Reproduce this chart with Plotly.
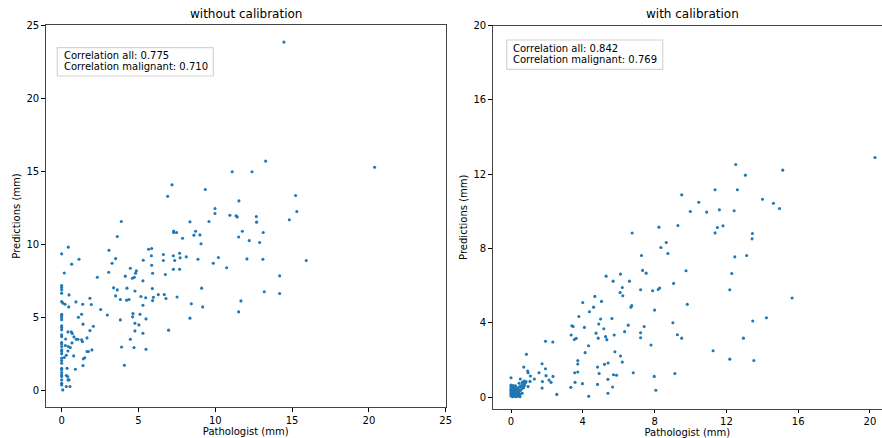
import plotly.graph_objects as go

# ---------------- data ----------------
left_pts = [
    (14.47,23.83),(20.37,15.28),(13.28,15.7),(11.1,14.97),(12.39,14.97),(7.18,14.08),(6.9,13.3),(9.35,13.76),
    (15.23,13.35),(11.54,12.98),(9.98,12.46),(9.98,12.12),(15.31,12.26),(10.95,12.0),(11.35,11.96),(11.43,11.89),
    (12.67,11.91),(14.82,11.69),(12.69,11.53),(9.59,11.57),(8.35,11.55),(3.88,11.57),(11.76,10.91),(13.12,10.82),
    (7.29,10.93),(7.29,10.82),(7.48,10.82),(8.72,10.91),(9.0,10.66),(8.61,10.64),(7.87,10.43),(3.62,10.55),
    (11.52,10.52),(12.21,10.27),(12.89,10.14),(9.07,10.05),
    (0,9.36),(0.43,9.82),(3.08,9.61),(5.66,9.68),(5.86,9.73),(6.62,9.32),(7.27,9.23),(7.68,9.41),(5.84,9.23),
    (8.11,9.16),(10.2,9.11),(1.13,9.0),(3.51,9.04),(7.36,8.91),(7.71,9.09),(8.87,9.0),(12.06,9.02),(13.1,9.0),
    (15.92,8.91),(3.28,8.72),(0.65,8.66),(5.31,8.93),(6.62,8.91),(9.87,8.72),(5.86,8.59),(10.74,8.41),(4.47,8.38),
    (7.27,8.31),(7.68,8.31),(4.86,8.2),(4.81,8.04),(0.17,8.06),(3.06,8.11),(5.92,8.04),(6.75,7.95),(4.14,7.84),
    (14.19,7.86),(2.32,7.77),(4.6,7.7),(4.73,7.77),
    (0,7.2),(0,7.07),(0,6.91),(0,6.68),(3.38,7.04),(4.25,7.02),(3.62,6.9),(5.29,7.52),(9.11,7.02),(5.9,6.99),
    (4.77,6.83),(0.48,6.56),(3.51,6.49),(6.68,6.58),(6.29,6.58),(6.79,6.31),(7.51,6.42),(5.16,6.45),(5.47,6.36),
    (5.97,6.4),(4.23,6.2),(4.38,6.24),(3.82,6.24),(5.92,6.17),(0,6.11),(0.07,6.0),(0.93,6.08),(0.22,5.92),
    (1.37,5.92),(1.93,5.9),(0.46,5.74),(5.29,5.85),(8.44,5.95),(13.19,6.77),(14.19,6.65),(11.67,6.15),(9.18,5.74),
    (11.52,5.4),(1.84,6.33),(2.54,5.56),(2.97,5.19),(1.3,5.24),(1.09,5.03),(1.39,4.56),(2.06,4.42),(1.84,4.12),
    (8.35,4.97),(4.64,5.28),(4.62,5.06),(5.1,5.24),(5.49,4.92),(3.82,4.85),(4.77,4.62),(5.03,4.51),(4.77,4.1),
    (6.96,4.15),(5.29,3.94),
    (0,5.24),(0,5.15),(0,5.02),(0,4.86),(0,4.45),(0,4.33),(0,4.17),(0,3.83),(0,3.71),(0,3.3),(0,3.21),(0,3.03),
    (0,2.8),(0,2.69),(0,2.53),(0,2.24),(0,2.07),(0,1.89),(0,1.55),(0,1.44),(0,1.25),(0,1.09),(0,0.98),(0,0.75),
    (0,0.52),(0,0.41),
    (4.47,3.53),(3.9,3.0),(4.71,2.96),(5.49,2.85),(4.08,1.75),(0.41,4.03),(0.63,4.03),(0.69,3.92),(0.8,3.69),
    (0.95,3.53),(1.06,3.53),(1.3,3.49),(1.35,3.37),(1.65,3.62),(0.67,3.28),(0.26,3.55),(0.24,3.1),(0.43,3.03),
    (0.56,2.96),(1.65,2.69),(1.74,2.69),(1.97,2.8),(1.5,2.26),(1.41,2.19),(0.78,2.39),(0.41,2.73),(0.3,2.44),
    (0.17,2.28),(1.39,1.73),(0.89,1.48),(0.35,1.55),(0.3,1.05),(0.39,0.98),(0.41,0.75),(0.48,0.75),(0.3,0.3),
    (0.54,0.3),(0.07,0.07),
]
left_x = [p[0] for p in left_pts]
left_y = [p[1] for p in left_pts]

right_pts = [
    (20.28,12.9),(12.52,12.52),(15.14,12.22),(13.06,11.95),(11.37,11.16),(12.61,11.16),(9.51,10.89),(14.01,10.65),
    (10.46,10.49),(14.62,10.44),(11.61,10.08),(12.43,10.03),(14.96,10.15),(9.99,9.99),(10.9,9.96),(8.24,9.15),
    (9.3,9.24),(11.81,9.22),(11.5,9.13),(11.37,8.84),(13.45,8.81),(13.43,8.52),(6.75,8.83),(8.65,8.32),(8.35,8.05),
    (8.74,7.73),(12.47,7.55),(13.13,7.62),(7.27,7.62),(7.33,6.82),(7.53,6.67),(9.75,6.8),(12.3,6.65),(5.3,6.51),
    (6.1,6.62),(5.69,6.24),(6.6,6.24),(9.06,6.12),(6.2,5.9),(7.22,5.78),(7.89,5.72),(8.2,5.79),(8.28,5.87),
    (12.19,5.78),(6.08,5.63),(6.23,5.45),(4.67,5.42),(5.04,5.15),(4.0,5.09),(4.6,4.84),(6.73,4.93),(6.68,4.84),
    (9.82,4.99),(15.66,5.33),(4.37,4.59),(8.0,4.68),(3.78,4.34),(4.99,4.2),(5.62,4.23),(4.89,3.93),(6.53,3.87),
    (9.02,4.0),(13.47,4.09),(14.23,4.27),(3.39,3.84),(3.46,3.8),(4.09,3.75),(5.17,3.68),(7.42,3.8),(4.74,3.44),
    (6.33,3.52),(7.22,3.46),(3.35,3.34),(5.75,3.34),(5.27,3.25),(3.63,3.16),(3.53,3.1),(4.86,3.17),(5.34,3.09),
    (7.22,3.19),(9.27,3.35),(9.51,3.17),(12.95,3.17),(1.92,3.0),(2.33,2.96),(4.32,2.76),(7.8,2.8),(4.13,2.39),
    (5.79,2.44),(6.1,2.21),(6.2,1.88),(11.26,2.49),(12.19,2.04),(13.53,1.97),(0.86,2.3),(3.72,1.96),(3.72,1.78),
    (1.73,1.79),(5.41,1.83),(5.21,1.76),(4.82,1.61),(0.71,1.61),(1.92,1.52),(0.93,1.4),(0.95,1.31),(1.56,1.31),
    (3.55,1.31),(3.72,1.35),(4.91,1.27),(5.71,1.2),(5.88,1.17),(6.81,1.31),(9.13,1.27),(7.98,1.11),(2.34,1.11),
    (1.08,1.13),(1.95,1.15),(1.3,0.97),(2.12,0.91),(1.75,0.83),(1.06,0.84),(0.73,0.86),(2.23,0.79),(3.57,0.79),
    (3.98,0.72),(4.82,0.68),(5.4,0.95),(0.95,0.56),(1.73,0.48),(3.33,0.52),(5.66,0.54),(8.07,0.36),(2.55,0.14),
    (5.4,0.2),(4.33,0.04),(0,1.04),
    (0.52,0.97),(0.45,0.74),(0.63,0.79),(0.84,0.83),(0.69,0.56),(0.32,0.47),
    (0,0.05),(0,0.12),(0,0.2),(0,0.28),(0,0.35),(0,0.42),(0,0.5),(0,0.58),(0,0.65),(0.05,0.08),(0.05,0.3),
    (0.05,0.55),(0.1,0.02),(0.1,0.18),(0.1,0.4),(0.12,0.62),(0.15,0.1),(0.15,0.25),(0.17,0.5),(0.2,0.05),
    (0.2,0.33),(0.22,0.45),(0.24,0.15),(0.25,0.6),(0.28,0.02),(0.3,0.22),(0.3,0.38),(0.33,0.1),(0.35,0.5),
    (0.36,0.3),(0.4,0.05),(0.4,0.18),(0.42,0.42),(0.45,0.1),(0.45,0.28),(0.48,0.55),(0.5,0.02),(0.5,0.15),
    (0.52,0.35),(0.55,0.6),(0.6,0.45),(0.65,0.7),(0.7,0.5),(0.75,0.62),(0.8,0.75),(0.62,0.2),
]
right_x = [p[0] for p in right_pts]
right_y = [p[1] for p in right_pts]

titles = ["without calibration", "with calibration"]
stats_left = ["Correlation all: 0.775", "Correlation malignant: 0.710"]
stats_right = ["Correlation all: 0.842", "Correlation malignant: 0.769"]
left_ticks = [0, 5, 10, 15, 20, 25]
right_ticks = [0, 4, 8, 12, 16, 20]

# ---------------- figure ----------------
W, H = 882, 438
FONT = "DejaVu Sans"
BLUE = "#1f77b4"

def px(x):
    return x / W

def py(y):
    return (H - y) / H

fig = go.Figure()
fig.add_trace(go.Scatter(x=left_x, y=left_y, mode="markers", xaxis="x", yaxis="y",
                         marker=dict(color=BLUE, size=3.1, line=dict(width=0)), showlegend=False))
fig.add_trace(go.Scatter(x=right_x, y=right_y, mode="markers", xaxis="x2", yaxis="y2",
                         marker=dict(color=BLUE, size=3.1, line=dict(width=0)), showlegend=False))

axis_common = dict(showgrid=False, zeroline=False, ticks="outside", ticklen=3.5, tickwidth=0.8,
                   tickcolor="#000", showline=True, linecolor="#444", linewidth=1,
                   tickfont=dict(family=FONT, size=10, color="#000"), automargin=False)

fig.update_layout(
    width=W, height=H,
    margin=dict(l=0, r=0, t=0, b=0),
    paper_bgcolor="white", plot_bgcolor="white",
    font=dict(family=FONT, color="#000"),
    xaxis=dict(axis_common, domain=[px(45.7), px(445.7)], range=[-1.04, 25], tickvals=left_ticks,
               mirror=True, anchor="y",
               title=dict(text="Pathologist (mm)", font=dict(family=FONT, size=10), standoff=1)),
    yaxis=dict(axis_common, domain=[py(407), py(25)], range=[-1.1, 25], tickvals=left_ticks,
               mirror=True, anchor="x",
               title=dict(text="Predictions (mm)", font=dict(family=FONT, size=10), standoff=3)),
    xaxis2=dict(axis_common, domain=[px(492.7), 1.0], range=[-1.02, 20.67], tickvals=right_ticks,
                mirror=True, anchor="y2",
                title=dict(text="Pathologist (mm)", font=dict(family=FONT, size=10), standoff=1)),
    yaxis2=dict(axis_common, domain=[py(408.7), py(25.7)], range=[-0.63, 20], tickvals=right_ticks,
                mirror=False, anchor="x2",
                title=dict(text="Predictions (mm)", font=dict(family=FONT, size=10), standoff=3)),
)

# titles (centered over each full axes box)
fig.add_annotation(text=titles[0], x=px(245.7), y=py(14), xref="paper", yref="paper",
                   xanchor="center", yanchor="middle", showarrow=False,
                   font=dict(family=FONT, size=12, color="#000"))
fig.add_annotation(text=titles[1], x=px(692.7), y=py(14), xref="paper", yref="paper",
                   xanchor="center", yanchor="middle", showarrow=False,
                   font=dict(family=FONT, size=12, color="#000"))

# correlation boxes
def stat_box(x0, x1, ytop, ybot, tx, lines_y, lines):
    fig.add_shape(type="rect", xref="paper", yref="paper", x0=px(x0), x1=px(x1), y0=py(ybot), y1=py(ytop),
                  line=dict(color="#d4d4d4", width=1.2), fillcolor="white", layer="above")
    for ly, txt in zip(lines_y, lines):
        fig.add_annotation(text=txt, x=px(tx), y=py(ly), xref="paper", yref="paper",
                           xanchor="left", yanchor="middle", showarrow=False,
                           font=dict(family=FONT, size=10, color="#000"))

stat_box(57.3, 213.3, 47.7, 76.0, 61.5, [55.0, 66.3], stats_left)
stat_box(506.7, 662.7, 40.0, 69.3, 511.0, [48.3, 59.7], stats_right)

fig.write_html("out.html", config={"displayModeBar": False},
               post_script="document.body.style.margin='0';document.body.style.overflow='hidden';")
